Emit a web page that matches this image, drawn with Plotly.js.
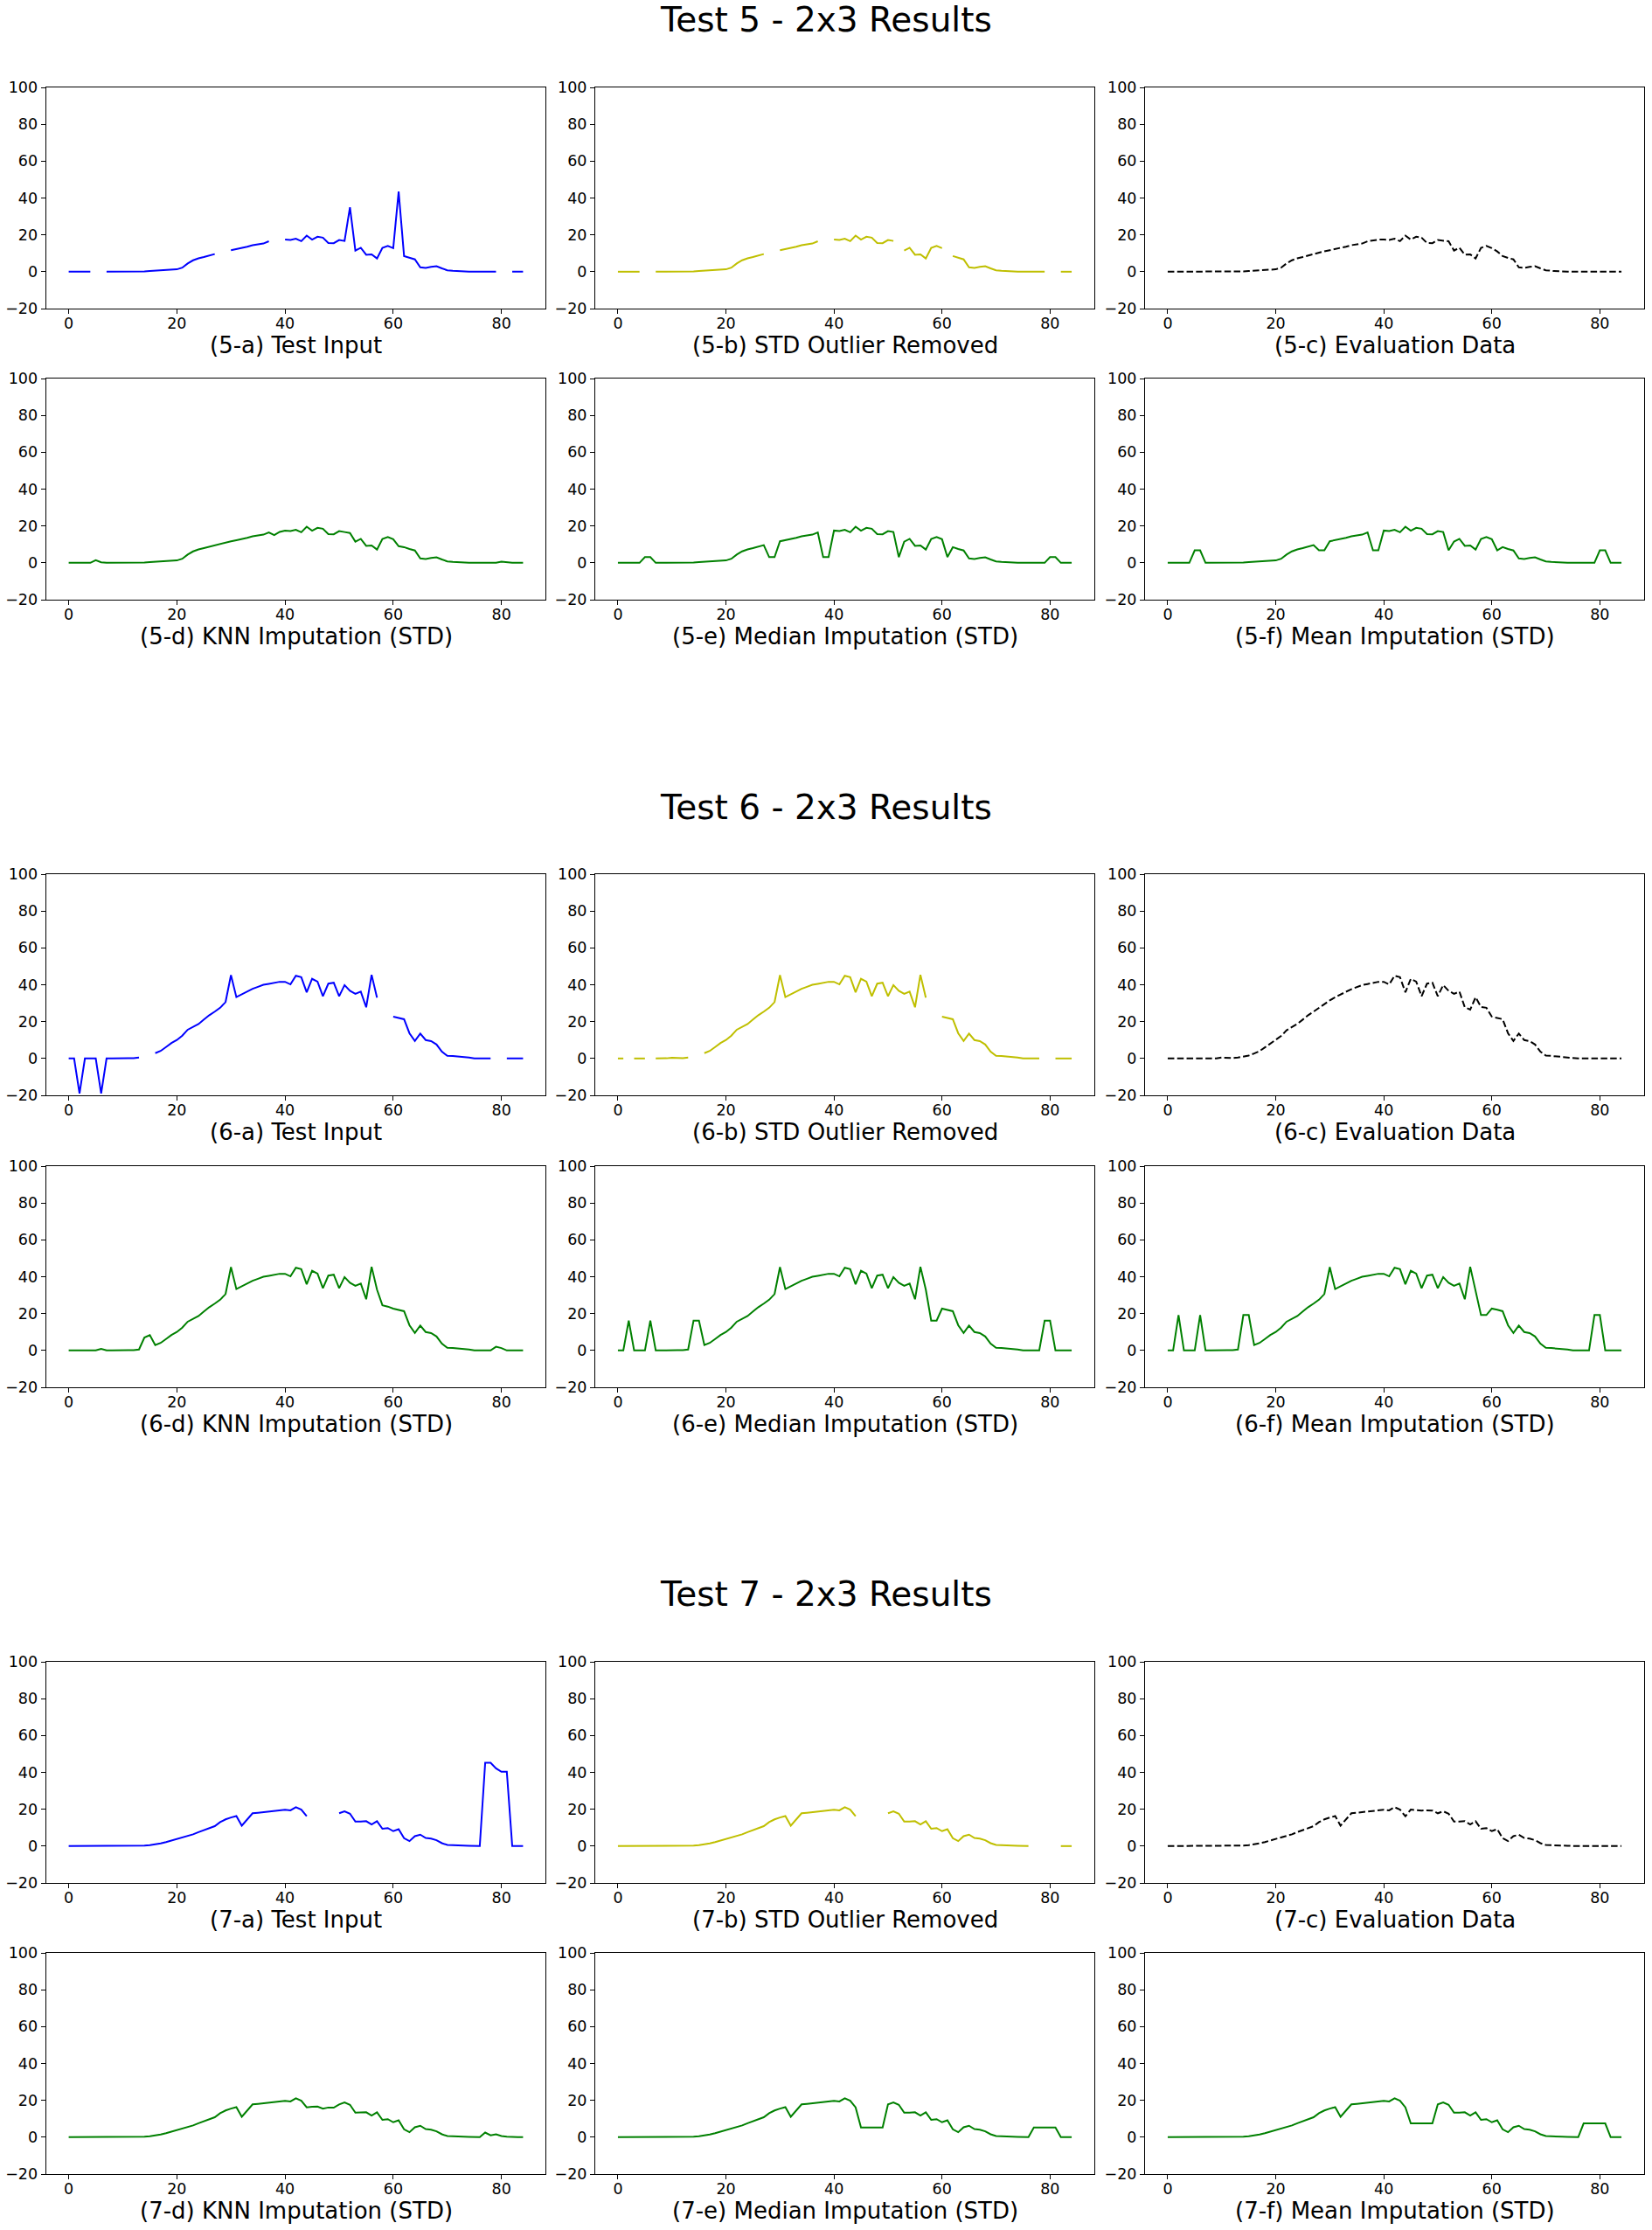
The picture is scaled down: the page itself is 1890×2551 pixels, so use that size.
<!DOCTYPE html>
<html>
<head>
<meta charset="utf-8">
<script src="https://cdn.plot.ly/plotly-3.0.1.min.js"></script>
<style>
html,body{margin:0;padding:0;background:#ffffff;}
#chart{width:1890px;height:2551px;}
</style>
</head>
<body>
<div id="chart"></div>
<script>
// ---------- DATA ----------
const xIndex = Array.from({length: 85}, (_, i) => i);
const xTicks = [0, 20, 40, 60, 80];
const yTicks = [-20, 0, 20, 40, 60, 80, 100];
const testTitles = ['Test 5 - 2x3 Results', 'Test 6 - 2x3 Results', 'Test 7 - 2x3 Results'];
const panelNames = ['Test Input', 'STD Outlier Removed', 'Evaluation Data',
                    'KNN Imputation (STD)', 'Median Imputation (STD)', 'Mean Imputation (STD)'];
const panelTags = ['a', 'b', 'c', 'd', 'e', 'f'];

// Test 5
const input5 = [0,0,0,0,0,null,null,0,0,0,
  0,0,0,0,0.2,0.4,0.6,0.8,1.0,1.1,
  1.3,2.2,4.5,6.2,7.3,8.0,8.8,9.6,null,null,
  11.7,12.3,12.8,13.6,14.4,14.8,15.3,16.5,null,null,
  17.5,17.2,17.9,16.6,19.6,17.4,19.0,18.5,15.6,15.5,
  17.2,16.7,35.0,11.5,13.0,9.2,9.4,7.2,12.9,14.0,
  12.8,43.5,8.5,7.5,6.7,2.4,2.1,2.6,3.0,1.8,
  0.8,0.5,0.3,0,0,0,0,0,0,0,
  null,null,0,0,0];
const std5 = [0,0,0,0,0,null,null,0,0,0,
  0,0,0,0,0.2,0.4,0.6,0.8,1.0,1.1,
  1.3,2.2,4.5,6.2,7.3,8.0,8.8,9.6,null,null,
  11.7,12.3,12.8,13.6,14.4,14.8,15.3,16.5,null,null,
  17.5,17.2,17.9,16.6,19.6,17.4,19.0,18.5,15.6,15.5,
  17.2,16.7,null,11.5,13.0,9.2,9.4,7.2,12.9,14.0,
  12.8,null,8.5,7.5,6.7,2.4,2.1,2.6,3.0,1.8,
  0.8,0.5,0.3,0,0,0,0,0,0,0,
  null,null,0,0,0];
const eval5 = [0,0,0,0,0,0,0,0,0,0,
  0,0,0,0,0.2,0.4,0.6,0.8,1.0,1.1,
  1.3,2.2,4.5,6.2,7.3,8.0,8.8,9.6,10.5,11.1,
  11.7,12.3,12.8,13.6,14.4,14.8,15.3,16.5,17.1,17.4,
  17.5,17.2,17.9,16.6,19.6,17.4,19.0,18.5,15.6,15.5,
  17.2,16.7,16.5,11.5,13.0,9.2,9.4,7.2,12.9,14.0,
  12.8,11.0,8.5,7.5,6.7,2.4,2.1,2.6,3.0,1.8,
  0.8,0.5,0.3,0,0,0,0,0,0,0,
  0,0,0,0,0];
const knn5 = [0,0,0,0,0,1.4,0.3,0,0,0,
  0,0,0,0,0.2,0.4,0.6,0.8,1.0,1.1,
  1.3,2.2,4.5,6.2,7.3,8.0,8.8,9.6,10.3,11.0,
  11.7,12.3,12.8,13.6,14.4,14.8,15.3,16.5,15.0,16.8,
  17.5,17.2,17.9,16.6,19.6,17.4,19.0,18.5,15.6,15.5,
  17.2,16.7,16.2,11.5,13.0,9.2,9.4,7.2,12.9,14.0,
  12.8,9.0,8.5,7.5,6.7,2.4,2.1,2.6,3.0,1.8,
  0.8,0.5,0.3,0,0,0,0,0,0,0,
  0.6,0.2,0,0,0];
const median5 = [0,0,0,0,0,3.1,3.1,0,0,0,
  0,0,0,0,0.2,0.4,0.6,0.8,1.0,1.1,
  1.3,2.2,4.5,6.2,7.3,8.0,8.8,9.6,3.1,3.1,
  11.7,12.3,12.8,13.6,14.4,14.8,15.3,16.5,3.1,3.1,
  17.5,17.2,17.9,16.6,19.6,17.4,19.0,18.5,15.6,15.5,
  17.2,16.7,3.1,11.5,13.0,9.2,9.4,7.2,12.9,14.0,
  12.8,3.1,8.5,7.5,6.7,2.4,2.1,2.6,3.0,1.8,
  0.8,0.5,0.3,0,0,0,0,0,0,0,
  3.1,3.1,0,0,0];
const mean5 = [0,0,0,0,0,6.8,6.8,0,0,0,
  0,0,0,0,0.2,0.4,0.6,0.8,1.0,1.1,
  1.3,2.2,4.5,6.2,7.3,8.0,8.8,9.6,6.8,6.8,
  11.7,12.3,12.8,13.6,14.4,14.8,15.3,16.5,6.8,6.8,
  17.5,17.2,17.9,16.6,19.6,17.4,19.0,18.5,15.6,15.5,
  17.2,16.7,6.8,11.5,13.0,9.2,9.4,7.2,12.9,14.0,
  12.8,6.8,8.5,7.5,6.7,2.4,2.1,2.6,3.0,1.8,
  0.8,0.5,0.3,0,0,0,0,0,0,0,
  6.8,6.8,0,0,0];

// Test 6
const input6 = [0,0,-19,0,0,0,-19,0,0,0.1,
  0.4,0.2,0.2,0.5,null,null,2.9,4.1,6.2,8.4,
  10.0,12.4,15.6,17.1,18.7,21.1,23.5,25.4,27.5,30.6,
  45.2,33.3,34.9,36.2,37.8,38.9,40.0,40.5,41.0,41.6,
  41.6,40.2,44.9,44.1,35.9,43.2,41.7,33.8,40.6,41.1,
  33.8,39.8,36.7,35.1,36.3,27.8,45.4,33.0,null,null,
  22.7,22.1,21.3,13.7,9.5,13.5,10.0,9.4,7.6,3.7,
  1.4,1.3,1.1,0.8,0.5,0,0,0,0,null,
  null,0,0,0,0];
const std6 = [0,0,null,0,0,0,null,0,0,0.1,
  0.4,0.2,0.2,0.5,null,null,2.9,4.1,6.2,8.4,
  10.0,12.4,15.6,17.1,18.7,21.1,23.5,25.4,27.5,30.6,
  45.2,33.3,34.9,36.2,37.8,38.9,40.0,40.5,41.0,41.6,
  41.6,40.2,44.9,44.1,35.9,43.2,41.7,33.8,40.6,41.1,
  33.8,39.8,36.7,35.1,36.3,27.8,45.4,33.0,null,null,
  22.7,22.1,21.3,13.7,9.5,13.5,10.0,9.4,7.6,3.7,
  1.4,1.3,1.1,0.8,0.5,0,0,0,0,null,
  null,0,0,0,0];
const eval6 = [0,0,0,0,0,0,0,0,0,0,
  0.5,0.2,0.2,0.5,1.0,1.6,2.7,4.0,6.0,8.2,
  10.0,12.2,15.3,17.1,18.8,21.1,23.5,25.4,27.5,29.8,
  31.5,33.2,34.9,36.2,37.6,38.7,39.8,40.4,41.0,41.6,
  41.6,40.2,44.9,44.1,35.9,43.2,41.7,33.8,40.6,41.1,
  33.8,39.8,36.7,35.1,36.3,27.8,26.5,33.2,28.0,27.5,
  22.7,22.1,21.3,13.7,9.5,13.5,10.0,9.4,7.6,3.7,
  1.6,1.4,1.1,0.8,0.4,0,0,0,0,0,
  0,0,0,0,0];
const knn6 = [0,0,0,0,0,0,0.9,0,0,0.1,
  0.4,0.2,0.2,0.5,7.0,8.3,2.9,4.1,6.2,8.4,
  10.0,12.4,15.6,17.1,18.7,21.1,23.5,25.4,27.5,30.6,
  45.2,33.3,34.9,36.2,37.8,38.9,40.0,40.5,41.0,41.6,
  41.6,40.2,44.9,44.1,35.9,43.2,41.7,33.8,40.6,41.1,
  33.8,39.8,36.7,35.1,36.3,27.8,45.4,33.0,24.5,23.8,
  22.7,22.1,21.3,13.7,9.5,13.5,10.0,9.4,7.6,3.7,
  1.4,1.3,1.1,0.8,0.5,0,0,0,0,2.0,
  1.3,0,0,0,0];
const median6 = [0,0,16.2,0,0,0,16.2,0,0,0.1,
  0.4,0.2,0.2,0.5,16.2,16.2,2.9,4.1,6.2,8.4,
  10.0,12.4,15.6,17.1,18.7,21.1,23.5,25.4,27.5,30.6,
  45.2,33.3,34.9,36.2,37.8,38.9,40.0,40.5,41.0,41.6,
  41.6,40.2,44.9,44.1,35.9,43.2,41.7,33.8,40.6,41.1,
  33.8,39.8,36.7,35.1,36.3,27.8,45.4,33.0,16.2,16.2,
  22.7,22.1,21.3,13.7,9.5,13.5,10.0,9.4,7.6,3.7,
  1.4,1.3,1.1,0.8,0.5,0,0,0,0,16.2,
  16.2,0,0,0,0];
const mean6 = [0,0,19.2,0,0,0,19.2,0,0,0.1,
  0.4,0.2,0.2,0.5,19.2,19.2,2.9,4.1,6.2,8.4,
  10.0,12.4,15.6,17.1,18.7,21.1,23.5,25.4,27.5,30.6,
  45.2,33.3,34.9,36.2,37.8,38.9,40.0,40.5,41.0,41.6,
  41.6,40.2,44.9,44.1,35.9,43.2,41.7,33.8,40.6,41.1,
  33.8,39.8,36.7,35.1,36.3,27.8,45.4,33.0,19.2,19.2,
  22.7,22.1,21.3,13.7,9.5,13.5,10.0,9.4,7.6,3.7,
  1.4,1.3,1.1,0.8,0.5,0,0,0,0,19.2,
  19.2,0,0,0,0];

// Test 7
const input7 = [0,0,0,0,0,0,0,0,0,0,
  0,0,0,0.1,0.3,0.5,0.9,1.5,2.2,3.0,
  3.9,4.9,5.6,6.4,7.6,8.7,9.6,10.8,13.0,14.5,
  15.5,16.3,11.1,14.4,17.8,18.1,18.4,18.7,19.2,19.5,
  19.7,19.4,21.1,19.8,16.2,null,null,null,null,null,
  17.8,18.9,17.6,13.3,13.3,13.5,11.7,13.5,9.4,9.8,
  8.1,9.2,4.3,2.7,5.4,6.2,4.4,4.1,3.2,1.6,
  0.6,0.6,0.5,0.3,0.2,0,0,45.2,45.2,42.2,
  40.3,40.3,0,0,0];
const std7 = [0,0,0,0,0,0,0,0,0,0,
  0,0,0,0.1,0.3,0.5,0.9,1.5,2.2,3.0,
  3.9,4.9,5.6,6.4,7.6,8.7,9.6,10.8,13.0,14.5,
  15.5,16.3,11.1,14.4,17.8,18.1,18.4,18.7,19.2,19.5,
  19.7,19.4,21.1,19.8,16.2,null,null,null,null,null,
  17.8,18.9,17.6,13.3,13.3,13.5,11.7,13.5,9.4,9.8,
  8.1,9.2,4.3,2.7,5.4,6.2,4.4,4.1,3.2,1.6,
  0.6,0.6,0.5,0.3,0.2,0,0,null,null,null,
  null,null,0,0,0];
const eval7 = [0,0,0,0,0,0,0,0,0,0,
  0,0,0,0.1,0.3,0.5,0.9,1.5,2.2,3.0,
  3.9,4.9,5.6,6.4,7.6,8.7,9.6,10.8,13.0,14.5,
  15.5,16.3,11.1,14.4,17.8,18.1,18.4,18.7,19.2,19.5,
  19.7,19.4,21.1,19.8,16.2,19.8,19.4,19.3,19.4,19.3,
  17.8,18.9,17.6,13.3,13.3,13.5,11.7,13.5,9.4,9.8,
  8.1,9.2,4.3,2.7,5.4,6.2,4.4,4.1,3.2,1.6,
  0.6,0.6,0.5,0.3,0.2,0,0,0,0,0,
  0,0,0,0,0];
const knn7 = [0,0,0,0,0,0,0,0,0,0,
  0,0,0,0.1,0.3,0.5,0.9,1.5,2.2,3.0,
  3.9,4.9,5.6,6.4,7.6,8.7,9.6,10.8,13.0,14.5,
  15.5,16.3,11.1,14.4,17.8,18.1,18.4,18.7,19.2,19.5,
  19.7,19.4,21.1,19.8,16.2,16.5,16.6,15.5,16.1,16.0,
  17.8,18.9,17.6,13.3,13.3,13.5,11.7,13.5,9.4,9.8,
  8.1,9.2,4.3,2.7,5.4,6.2,4.4,4.1,3.2,1.6,
  0.6,0.6,0.5,0.3,0.2,0,0,2.5,1.0,1.6,
  0.6,0.3,0,0,0];
const median7 = [0,0,0,0,0,0,0,0,0,0,
  0,0,0,0.1,0.3,0.5,0.9,1.5,2.2,3.0,
  3.9,4.9,5.6,6.4,7.6,8.7,9.6,10.8,13.0,14.5,
  15.5,16.3,11.1,14.4,17.8,18.1,18.4,18.7,19.2,19.5,
  19.7,19.4,21.1,19.8,16.2,5.3,5.3,5.3,5.3,5.3,
  17.8,18.9,17.6,13.3,13.3,13.5,11.7,13.5,9.4,9.8,
  8.1,9.2,4.3,2.7,5.4,6.2,4.4,4.1,3.2,1.6,
  0.6,0.6,0.5,0.3,0.2,0,0,5.3,5.3,5.3,
  5.3,5.3,0,0,0];
const mean7 = [0,0,0,0,0,0,0,0,0,0,
  0,0,0,0.1,0.3,0.5,0.9,1.5,2.2,3.0,
  3.9,4.9,5.6,6.4,7.6,8.7,9.6,10.8,13.0,14.5,
  15.5,16.3,11.1,14.4,17.8,18.1,18.4,18.7,19.2,19.5,
  19.7,19.4,21.1,19.8,16.2,7.5,7.5,7.5,7.5,7.5,
  17.8,18.9,17.6,13.3,13.3,13.5,11.7,13.5,9.4,9.8,
  8.1,9.2,4.3,2.7,5.4,6.2,4.4,4.1,3.2,1.6,
  0.6,0.6,0.5,0.3,0.2,0,0,7.5,7.5,7.5,
  7.5,7.5,0,0,0];

// ---------- LAYOUT ----------
const W = 1890, H = 2551;
const FONT = 'DejaVu Sans, Liberation Sans, sans-serif';
const colPx = [[52.6, 624.4], [681, 1252], [1310, 1881]];
const rowTopPx = [100, 433, 1000, 1334, 1901, 2234];
const panelH = 253;

const tests = [
  {num: 5, series: [input5, std5, eval5, knn5, median5, mean5]},
  {num: 6, series: [input6, std6, eval6, knn6, median6, mean6]},
  {num: 7, series: [input7, std7, eval7, knn7, median7, mean7]}
];
const styles = [
  {color: '#0000ff', dash: 'solid'},
  {color: '#bfbf00', dash: 'solid'},
  {color: '#000000', dash: '7.5px,3.3px'},
  {color: '#008000', dash: 'solid'},
  {color: '#008000', dash: 'solid'},
  {color: '#008000', dash: 'solid'}
];

const traces = [];
const layout = {
  width: W, height: H,
  margin: {l: 0, r: 0, t: 0, b: 0},
  paper_bgcolor: '#ffffff',
  plot_bgcolor: '#ffffff',
  showlegend: false,
  font: {family: FONT, color: '#000000'},
  annotations: []
};

let n = 0;
tests.forEach((t, ti) => {
  layout.annotations.push({
    text: testTitles[ti], xref: 'paper', yref: 'paper',
    x: 945 / W, y: 1 - (rowTopPx[ti * 2] - 77) / H,
    xanchor: 'center', yanchor: 'middle', showarrow: false,
    font: {family: FONT, size: 39, color: '#000000'}
  });
  for (let p = 0; p < 6; p++) {
    n++;
    const r = ti * 2 + Math.floor(p / 3);
    const c = p % 3;
    const top = rowTopPx[r], bot = top + panelH;
    const xs = n === 1 ? '' : String(n);
    traces.push({
      type: 'scatter', mode: 'lines',
      x: xIndex, y: t.series[p],
      xaxis: 'x' + xs, yaxis: 'y' + xs,
      line: {color: styles[p].color, width: 2, dash: styles[p].dash},
      connectgaps: false, hoverinfo: 'skip'
    });
    const common = {
      ticks: 'outside', ticklen: 5, tickwidth: 1, tickcolor: '#000000',
      showline: true, linecolor: '#000000', linewidth: 1, mirror: true,
      showgrid: false, zeroline: false, fixedrange: true,
      tickfont: {family: FONT, size: 17.5, color: '#000000'}
    };
    layout['xaxis' + xs] = Object.assign({}, common, {
      domain: [colPx[c][0] / W, colPx[c][1] / W],
      anchor: 'y' + xs, range: [-4.2, 88.2],
      tickmode: 'array', tickvals: xTicks,
      ticklabelstandoff: -4
    });
    layout['yaxis' + xs] = Object.assign({}, common, {
      domain: [1 - bot / H, 1 - top / H],
      anchor: 'x' + xs, range: [-20, 100],
      tickmode: 'array', tickvals: yTicks
    });
    layout.annotations.push({
      text: '(' + t.num + '-' + panelTags[p] + ') ' + panelNames[p],
      xref: 'paper', yref: 'paper',
      x: (colPx[c][0] + colPx[c][1]) / 2 / W,
      y: 1 - (bot + 42) / H,
      xanchor: 'center', yanchor: 'middle', showarrow: false,
      font: {family: FONT, size: 26, color: '#000000'}
    });
  }
});

Plotly.newPlot('chart', traces, layout, {staticPlot: true, displayModeBar: false});
</script>
</body>
</html>
